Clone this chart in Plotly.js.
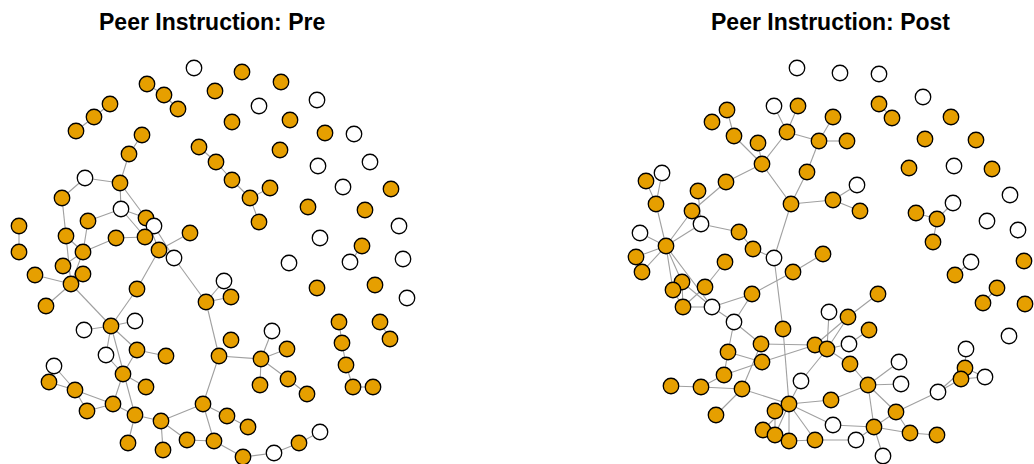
<!DOCTYPE html>
<html>
<head>
<meta charset="utf-8">
<script src="https://cdn.plot.ly/plotly-3.0.1.min.js"></script>
<style>html,body{margin:0;padding:0;background:#fff}#chart{width:1034px;height:464px}</style>
</head>
<body>
<div id="chart"></div>
<script>
// Panel titles
const panelTitles = ["Peer Instruction: Pre", "Peer Instruction: Post"];

// ---- Pre network: node layout positions (x, y) and type (1 = orange, 0 = white)
const preX = [194,147,164,178,242,281,215,259,317,110,94,76,142,232,290,325,354,129,199,216,280,318,370,85,120,232,343,391,270,250,308,365,62,259,399,320,362,121,146,154,88,19,66,116,145,190,19,83,159,174,350,289,403,63,35,83,71,317,375,224,137,46,206,231,407,111,84,135,339,380,272,231,390,137,166,106,219,261,287,342,346,54,123,49,75,146,260,288,353,373,307,87,113,135,161,203,227,248,128,163,187,214,243,274,299,320];
const preY = [68,84,95,109,72,82,91,106,100,104,117,131,135,122,120,133,134,154,147,162,150,166,162,178,183,180,187,189,188,198,207,210,198,222,226,238,246,209,218,226,221,226,236,238,237,233,252,252,250,258,262,263,259,266,275,274,284,288,285,281,289,306,302,297,298,326,330,321,322,322,331,340,339,350,356,355,356,359,349,343,365,366,374,382,390,387,385,379,387,387,394,411,404,415,421,404,416,427,443,450,440,441,457,453,443,432];
const preType = [0,1,1,1,1,1,1,0,0,1,1,1,1,1,1,1,0,1,1,1,1,0,0,0,1,1,0,1,1,1,1,1,1,1,0,0,1,0,1,0,1,1,1,1,1,1,1,1,1,0,0,0,0,1,1,1,1,1,1,0,1,1,1,1,0,1,0,0,1,1,0,1,1,1,1,0,1,1,1,1,1,0,1,1,1,1,1,1,1,1,1,1,1,1,1,1,1,1,1,1,1,1,1,0,1,0];
// Pre edges as node index pairs
const preEdges = [
 [1,2],[2,3],[9,10],[10,11],[12,17],[17,24],[23,24],[23,32],[24,37],[24,38],
 [37,40],[37,38],[37,44],[32,42],[42,47],[42,56],[40,47],[47,43],[43,44],
 [47,53],[47,56],[55,56],[38,48],[39,49],[48,45],[48,60],[41,46],
 [54,56],[56,61],[56,65],[60,65],[65,66],[65,67],[65,73],[65,75],[65,93],
 [73,74],[73,82],[75,82],[82,85],[82,92],[81,84],[83,84],[84,91],[84,92],[91,92],
 [92,93],[93,98],[93,94],[94,99],[94,100],[94,95],[100,101],
 [49,62],[62,59],[62,63],[62,76],[76,77],[76,95],[77,70],[77,78],[77,86],[77,87],[87,90],
 [95,96],[96,97],[95,101],[101,102],[102,103],[103,104],[104,105],
 [18,19],[19,25],[25,29],[29,28],[29,33],[68,79],[79,80],[80,88],[88,89],[69,72],[36,50]
];

// ---- Post network
const postX = [797,840,879,923,774,798,727,712,734,787,758,819,833,847,879,892,951,925,976,762,807,909,954,992,662,646,726,698,857,656,791,833,860,1010,692,701,640,739,916,937,953,987,1018,933,666,753,636,774,823,642,725,793,971,955,1024,682,673,705,752,878,997,983,1025,683,712,829,848,734,783,869,1009,761,815,827,849,966,728,762,850,899,724,801,868,901,965,961,985,938,671,701,742,789,831,896,775,716,833,874,910,937,763,775,789,815,856,883];
const postY = [68,73,74,97,106,106,110,122,136,132,143,141,117,141,104,118,117,139,140,164,172,168,166,169,173,181,182,191,185,204,204,200,211,195,211,224,233,232,213,219,203,221,230,242,246,249,257,258,254,272,262,272,262,275,261,282,290,287,294,294,288,303,304,307,307,312,317,322,329,330,336,344,345,349,344,349,352,362,364,362,375,381,385,384,368,379,377,392,386,387,389,404,400,412,411,415,425,427,433,435,430,435,441,440,440,456];
const postType = [0,0,0,0,0,1,1,1,1,1,1,1,1,1,1,1,1,1,1,1,1,1,0,1,0,1,1,1,0,1,1,1,1,0,1,0,0,1,1,1,0,0,0,1,1,1,1,0,1,1,1,1,0,1,1,1,1,1,1,1,1,1,1,1,0,0,1,0,1,1,0,1,1,1,0,0,1,1,1,0,1,0,1,0,1,1,0,0,1,1,1,1,1,1,1,1,0,1,1,1,1,1,1,1,0,0];
const postEdges = [
 [4,9],[5,9],[6,8],[8,19],[10,19],[19,9],[9,11],[12,11],[11,13],[11,20],[20,30],
 [19,30],[30,31],[31,28],[31,32],[30,47],[14,15],[19,26],[26,34],[27,35],
 [34,44],[35,44],[35,37],[37,45],[45,47],[24,29],[25,29],[29,44],[36,44],[46,44],[49,44],
 [44,55],[44,56],[44,64],[55,63],[56,63],[63,64],[55,64],[50,57],[57,63],
 [64,58],[58,51],[51,48],[64,67],[58,67],[67,71],[67,76],[71,72],[77,72],[76,77],[80,77],[76,80],
 [71,90],[80,89],[88,89],[89,90],[90,95],[90,91],[47,68],[68,91],[91,81],[81,73],
 [91,92],[91,96],[91,103],[91,102],[91,94],[91,101],[91,100],[94,101],[102,103],[103,104],
 [104,97],[96,97],[97,105],[82,97],[82,93],[97,93],[97,98],[93,98],[98,99],
 [82,92],[82,79],[82,83],[82,78],[73,78],[93,87],[87,85],[87,84],[85,86],[84,75],[84,86],
 [65,73],[66,73],[66,72],[59,66],[69,74],[74,73],[72,73],[38,39],[39,40],[39,43],[53,52],[60,61]
];

const ORANGE = "#E69F00";

function buildTraces(xs, ys, types, edges) {
  const ex = [], ey = [];
  edges.forEach(([a, b]) => { ex.push(xs[a], xs[b], null); ey.push(ys[a], ys[b], null); });
  return [
    {type: "scatter", mode: "lines", x: ex, y: ey, hoverinfo: "skip",
     line: {color: "#a0a0a0", width: 1.1}, showlegend: false},
    {type: "scatter", mode: "markers", x: xs, y: ys, hoverinfo: "skip", showlegend: false,
     marker: {size: 15.5, color: types.map(t => t ? ORANGE : "#ffffff"),
              line: {color: "#000000", width: 1.3}}}
  ];
}

const data = [...buildTraces(preX, preY, preType, preEdges),
              ...buildTraces(postX, postY, postType, postEdges)];

const layout = {
  width: 1034, height: 464,
  margin: {l: 0, r: 0, t: 0, b: 0},
  paper_bgcolor: "#fff", plot_bgcolor: "#fff",
  xaxis: {range: [0, 1034], visible: false, fixedrange: true},
  yaxis: {range: [464, 0], visible: false, fixedrange: true},
  annotations: [
    {text: "<b>" + panelTitles[0] + "</b>", x: 212, y: 22, xref: "x", yref: "y", showarrow: false,
     font: {family: "Liberation Sans, Arial, sans-serif", size: 23, color: "#000"}},
    {text: "<b>" + panelTitles[1] + "</b>", x: 830, y: 22, xref: "x", yref: "y", showarrow: false,
     font: {family: "Liberation Sans, Arial, sans-serif", size: 23, color: "#000"}}
  ]
};

Plotly.newPlot("chart", data, layout, {staticPlot: true, displayModeBar: false});
</script>
</body>
</html>
